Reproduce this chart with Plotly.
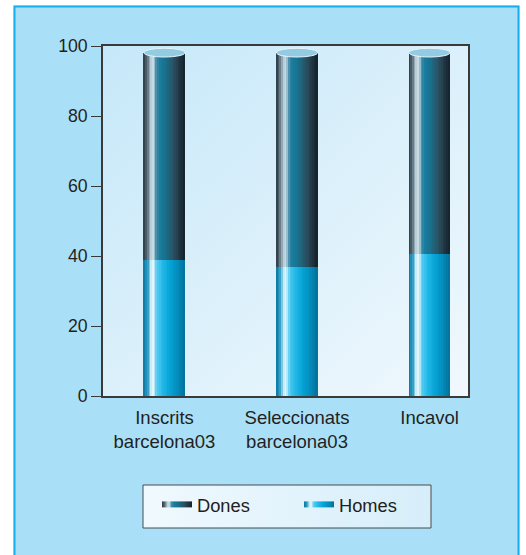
import plotly.graph_objects as go
import numpy as np

# ---- data ----
categories = ["Inscrits<br>barcelona03", "Seleccionats<br>barcelona03", "Incavol"]
homes = [38.9, 36.9, 40.6]
dones = [59.2, 61.2, 57.5]
y_ticks = [0, 20, 40, 60, 80, 100]
series_names = ["Dones", "Homes"]

# ---- layout constants ----
W, H = 526, 555
ML, MR, MT, MB = 103, 58, 46, 159
PW, PH = W - ML - MR, H - MT - MB
BAR_W = 0.31
N_STRIPS = 24
FONT = "Liberation Sans, Arial, Helvetica, sans-serif"
TXT = "#231f20"

dones_stops = [(0.0, "#2b3944"), (0.08, "#4f6470"), (0.18, "#b7ccd6"), (0.24, "#c9dde6"),
               (0.32, "#3f8aa6"), (0.40, "#177d9d"), (0.55, "#1a6e8a"), (0.75, "#2b4c5c"),
               (1.0, "#15212a")]
homes_stops = [(0.0, "#0777a2"), (0.10, "#2f9cc4"), (0.19, "#cdeef9"), (0.24, "#e8f7fc"),
               (0.32, "#58cdf2"), (0.45, "#25bbea"), (0.65, "#05a2d4"), (0.85, "#038ab9"),
               (1.0, "#046f98")]


def hex2rgb(h):
    h = h.lstrip("#")
    return np.array([int(h[i:i + 2], 16) for i in (0, 2, 4)], dtype=float)


def interp(stops, t):
    for (t0, c0), (t1, c1) in zip(stops[:-1], stops[1:]):
        if t0 <= t <= t1:
            f = (t - t0) / (t1 - t0) if t1 > t0 else 0
            c = hex2rgb(c0) * (1 - f) + hex2rgb(c1) * f
            return "rgb(%d,%d,%d)" % tuple(np.round(c))
    return stops[-1][1]


def px2paper_x(px):
    return (px - ML) / PW


def px2paper_y(py):
    return (H - MB - py) / PH


def svg_uri(svg):
    return "data:image/svg+xml;charset=utf-8," + (svg.replace("#", "%23").replace(" ", "%20")
                                                   .replace("<", "%3C").replace(">", "%3E")
                                                   .replace("'", "%27"))


def grad_svg(c0, c1, x2=1, y2=1):
    return ("<svg xmlns='http://www.w3.org/2000/svg' width='100' height='100' preserveAspectRatio='none'>"
            "<defs><linearGradient id='g' x1='0' y1='0' x2='%s' y2='%s'>"
            "<stop offset='0' stop-color='%s'/><stop offset='1' stop-color='%s'/>"
            "</linearGradient></defs><rect width='100' height='100' fill='url(#g)'/></svg>"
            % (x2, y2, c0, c1))


x_idx = list(range(len(categories)))
totals = [h + d for h, d in zip(homes, dones)]
fig = go.Figure()

sw = BAR_W / N_STRIPS
for k in range(N_STRIPS):
    t = (k + 0.5) / N_STRIPS
    off = -BAR_W / 2 + k * sw
    fig.add_trace(go.Bar(x=x_idx, y=homes, width=sw * 1.06, offset=off,
                         marker=dict(color=interp(homes_stops, t), line_width=0),
                         showlegend=False, hoverinfo="skip"))
    fig.add_trace(go.Bar(x=x_idx, y=dones, base=homes, width=sw * 1.06, offset=off,
                         marker=dict(color=interp(dones_stops, t), line_width=0),
                         showlegend=False, hoverinfo="skip"))

# legend entries with gradient swatches
for name, stops in (("Dones", dones_stops), ("Homes", homes_stops)):
    fig.add_trace(go.Scatter(
        x=[None], y=[None], mode="none", fill="toself", name=name,
        fillgradient=dict(type="horizontal", start=0, stop=1,
                          colorscale=[[s, c] for s, c in stops]),
        fillcolor=interp(stops, 0.5)))

# cylinder caps
for i, tot in zip(x_idx, totals):
    fig.add_shape(type="circle", xref="x", yref="y",
                  x0=i - BAR_W / 2, x1=i + BAR_W / 2, y0=tot - 1.25, y1=tot + 1.25,
                  fillcolor="#93cbe2", line=dict(color="#e6f4fa", width=1), layer="above")

# outer panel: white margins + cyan border
fig.add_shape(type="rect", xref="paper", yref="paper",
              x0=px2paper_x(-5), x1=px2paper_x(13.5), y0=px2paper_y(H + 5), y1=px2paper_y(-5),
              fillcolor="white", line_width=0, layer="below")
fig.add_shape(type="rect", xref="paper", yref="paper",
              x0=px2paper_x(-5), x1=px2paper_x(W + 5), y0=px2paper_y(5.5), y1=px2paper_y(-5),
              fillcolor="white", line_width=0, layer="below")
fig.add_shape(type="rect", xref="paper", yref="paper",
              x0=px2paper_x(519.5), x1=px2paper_x(W + 5), y0=px2paper_y(H + 5), y1=px2paper_y(-5),
              fillcolor="white", line_width=0, layer="below")
fig.add_shape(type="rect", xref="paper", yref="paper",
              x0=px2paper_x(14.5), x1=px2paper_x(518.5), y0=px2paper_y(H + 10), y1=px2paper_y(6.5),
              fillcolor="rgba(0,0,0,0)", line=dict(color="#18adee", width=2), layer="below")

# plot area gradient background
fig.add_layout_image(source=svg_uri(grad_svg("#c6e8f9", "#f0f8fd")),
                     xref="x domain", yref="y domain", x=0, y=1, sizex=1, sizey=1,
                     sizing="stretch", xanchor="left", yanchor="top", layer="below")

# legend box (gradient + border)
LB = dict(x0=143, x1=431, y0=485, y1=528)
fig.add_layout_image(source=svg_uri(grad_svg("#f0f9fe", "#d6eefa", 1, 0)),
                     xref="paper", yref="paper",
                     x=px2paper_x(LB["x0"]), y=px2paper_y(LB["y0"]),
                     sizex=(LB["x1"] - LB["x0"]) / PW, sizey=(LB["y1"] - LB["y0"]) / PH,
                     sizing="stretch", xanchor="left", yanchor="top", layer="below")
fig.add_shape(type="rect", xref="paper", yref="paper",
              x0=px2paper_x(LB["x0"]), x1=px2paper_x(LB["x1"]),
              y0=px2paper_y(LB["y1"]), y1=px2paper_y(LB["y0"]),
              fillcolor="rgba(0,0,0,0)", line=dict(color="#4a4a4a", width=1), layer="below")

fig.update_layout(
    width=W, height=H,
    margin=dict(l=ML, r=MR, t=MT, b=MB, pad=0),
    paper_bgcolor="#aadff8",
    plot_bgcolor="#dcf0fb",
    barmode="overlay",
    bargap=0,
    font=dict(family=FONT, size=18, color=TXT),
    showlegend=True,
    legend=dict(orientation="h", x=px2paper_x(157), xanchor="left", y=px2paper_y(486), yanchor="top",
                bgcolor="rgba(0,0,0,0)", borderwidth=0,
                font=dict(family=FONT, size=18.3, color=TXT),
                entrywidth=97, traceorder="normal"),
    xaxis=dict(range=[-0.464, 2.29], tickmode="array", tickvals=x_idx, ticktext=categories,
               showline=True, linecolor="#3a3a3a", linewidth=1.5, mirror=True,
               ticks="", showgrid=False, zeroline=False, fixedrange=True,
               tickfont=dict(size=18.5), ticklabelstandoff=4),
    yaxis=dict(range=[0, 100], tickmode="array", tickvals=y_ticks,
               showline=True, linecolor="#3a3a3a", linewidth=1.5, mirror=True,
               ticks="outside", ticklen=10, tickwidth=1.2, tickcolor="#3a3a3a",
               tickfont=dict(size=17.7), ticklabelstandoff=0,
               showgrid=False, zeroline=False, fixedrange=True),
)

fig.write_html("out.html", config={"displayModeBar": False},
               post_script="document.body.style.margin='0px';")
